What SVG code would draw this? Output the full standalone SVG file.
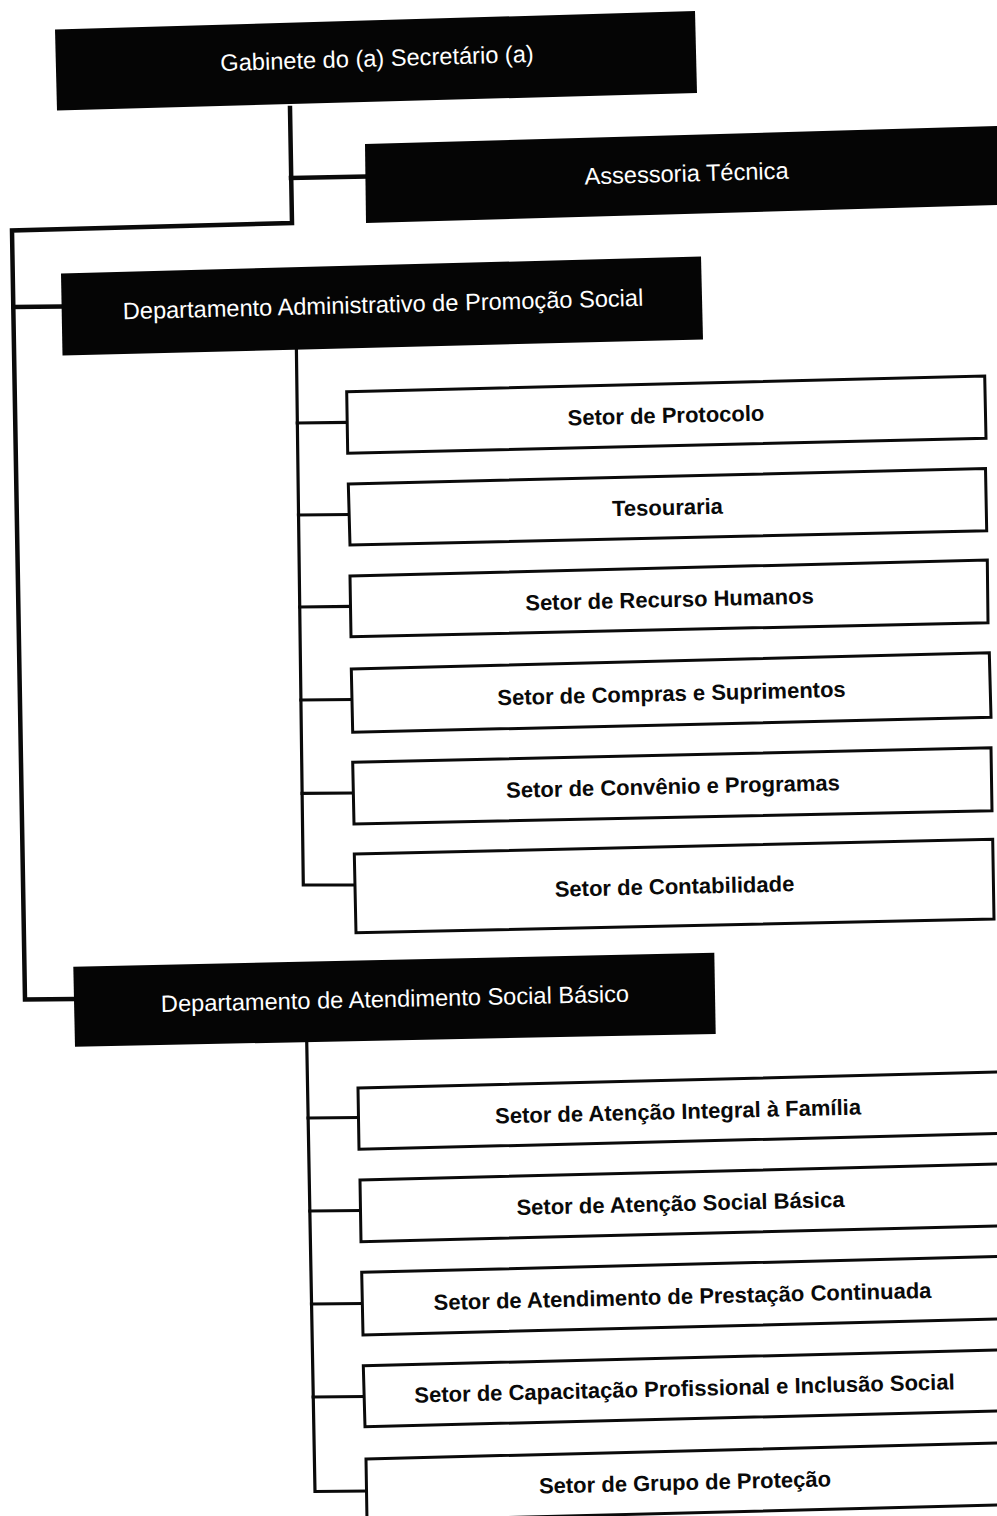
<svg xmlns="http://www.w3.org/2000/svg" width="997" height="1516" viewBox="0 0 997 1516">
<style>
.dark{fill:#050505;stroke:none}
.sector{fill:#fff;stroke:#0a0a0a;stroke-width:3;stroke-linejoin:miter}
.tw{fill:#fff;font-family:"Liberation Sans",Arial,sans-serif;font-size:23.6px;text-anchor:middle}
.tb{fill:#0a0a0a;font-family:"Liberation Sans",Arial,sans-serif;font-size:22px;font-weight:bold;text-anchor:middle}
.c1{fill:none;stroke:#0a0a0a;stroke-width:4.5;stroke-linejoin:miter;stroke-linecap:square}
.c2{fill:none;stroke:#0a0a0a;stroke-width:3.2;stroke-linejoin:miter;stroke-linecap:square}
</style>
<rect x="0" y="0" width="997" height="1516" fill="#fff"/>

<g id="connectors">
  <polyline class="c1" points="290,108 292,223 12,230.5 25,999.5 73.5,999"/>
  <line class="c1" x1="291" y1="178" x2="365" y2="176.5"/>
  <line class="c1" x1="13.5" y1="307" x2="61" y2="306.5"/>
  <polyline class="c2" points="296.4,349 303.3,885 355,885"/>
  <line class="c2" x1="297.3" y1="423" x2="347" y2="422.3"/>
  <line class="c2" x1="298.5" y1="515" x2="349" y2="514.5"/>
  <line class="c2" x1="299.7" y1="607" x2="350.5" y2="606.3"/>
  <line class="c2" x1="300.9" y1="700" x2="352" y2="699.5"/>
  <line class="c2" x1="302.1" y1="793.3" x2="353.3" y2="793"/>
  <polyline class="c2" points="306.7,1040 315,1491.5 366.8,1491"/>
  <line class="c2" x1="308.1" y1="1118" x2="358.5" y2="1117.5"/>
  <line class="c2" x1="309.8" y1="1211" x2="360.5" y2="1210.5"/>
  <line class="c2" x1="311.5" y1="1304" x2="362.3" y2="1303.5"/>
  <line class="c2" x1="313.2" y1="1397" x2="364" y2="1396.5"/>
</g>

<g id="gabinete">
  <polygon class="dark" points="55,29.5 695,11 697,93 57,110.5"/>
  <text class="tw" x="377" y="66.4" transform="rotate(-1.66 377 58)">Gabinete do (a) Secretário (a)</text>
</g>

<g id="assessoria">
  <polygon class="dark" points="365,144 1000,126 1000,205 366,223"/>
  <text class="tw" x="686.5" y="181.5" transform="rotate(-1.63 686.5 173)">Assessoria Técnica</text>
</g>

<g id="depto-admin">
  <polygon class="dark" points="61,273.5 701,256.5 703,339.5 62.5,355.5"/>
  <text class="tw" x="383" y="312.5" transform="rotate(-1.49 383 304)">Departamento Administrativo de Promoção Social</text>
</g>

<g id="setor-protocolo">
  <polygon class="sector" points="346.7,391.7 984.7,376 986,438.3 347.7,453.3"/>
  <text class="tb" x="666" y="423" transform="rotate(-1.41 666 415)">Setor de Protocolo</text>
</g>

<g id="tesouraria">
  <polygon class="sector" points="348.3,484 985.5,468.5 986.7,530.7 350,545"/>
  <text class="tb" x="667.5" y="515" transform="rotate(-1.39 667.5 507)">Tesouraria</text>
</g>

<g id="setor-rh">
  <polygon class="sector" points="350,576 987.3,560 988,622.7 351,636.7"/>
  <text class="tb" x="669.5" y="607" transform="rotate(-1.39 669.5 599)">Setor de Recurso Humanos</text>
</g>

<g id="setor-compras">
  <polygon class="sector" points="351.3,669 989.3,652.7 991,717.3 352.7,732.3"/>
  <text class="tb" x="671.5" y="701" transform="rotate(-1.4 671.5 693)">Setor de Compras e Suprimentos</text>
</g>

<g id="setor-convenio">
  <polygon class="sector" points="352.7,762.3 991,747.7 992,810.7 354,824"/>
  <text class="tb" x="673" y="794" transform="rotate(-1.3 673 786)">Setor de Convênio e Programas</text>
</g>

<g id="setor-contabilidade">
  <polygon class="sector" points="354.3,854 992.7,839.3 994,919 356,932.7"/>
  <text class="tb" x="674.5" y="894" transform="rotate(-1.3 674.5 886)">Setor de Contabilidade</text>
</g>

<g id="depto-atendimento">
  <polygon class="dark" points="73.3,966.7 714.3,952.7 715.7,1034 75,1046.7"/>
  <text class="tw" x="395" y="1006.9" transform="rotate(-1.25 395 998)">Departamento de Atendimento Social Básico</text>
</g>

<g id="setor-familia">
  <polygon class="sector" points="358,1088 1001,1072 1001,1133.5 359,1149.3"/>
  <text class="tb" x="678" y="1119" transform="rotate(-1.41 678 1111)">Setor de Atenção Integral à Família</text>
</g>

<g id="setor-atencao-basica">
  <polygon class="sector" points="360,1180 1001,1164 1001,1226 361,1241.7"/>
  <text class="tb" x="680.5" y="1211" transform="rotate(-1.41 680.5 1203)">Setor de Atenção Social Básica</text>
</g>

<g id="setor-prestacao">
  <polygon class="sector" points="361.7,1272.3 1001,1256.5 1001,1319 363,1335"/>
  <text class="tb" x="682.5" y="1304" transform="rotate(-1.41 682.5 1296)">Setor de Atendimento de Prestação Continuada</text>
</g>

<g id="setor-capacitacao">
  <polygon class="sector" points="363.3,1365.7 1001,1350 1001,1411 365,1426.7"/>
  <text class="tb" x="684.5" y="1396" transform="rotate(-1.41 684.5 1388)">Setor de Capacitação Profissional e Inclusão Social</text>
</g>

<g id="setor-grupo">
  <polygon class="sector" points="366,1459 1001,1443 1001,1505 367,1521"/>
  <text class="tb" x="685" y="1490" transform="rotate(-1.41 685 1482)">Setor de Grupo de Proteção</text>
</g>
</svg>
